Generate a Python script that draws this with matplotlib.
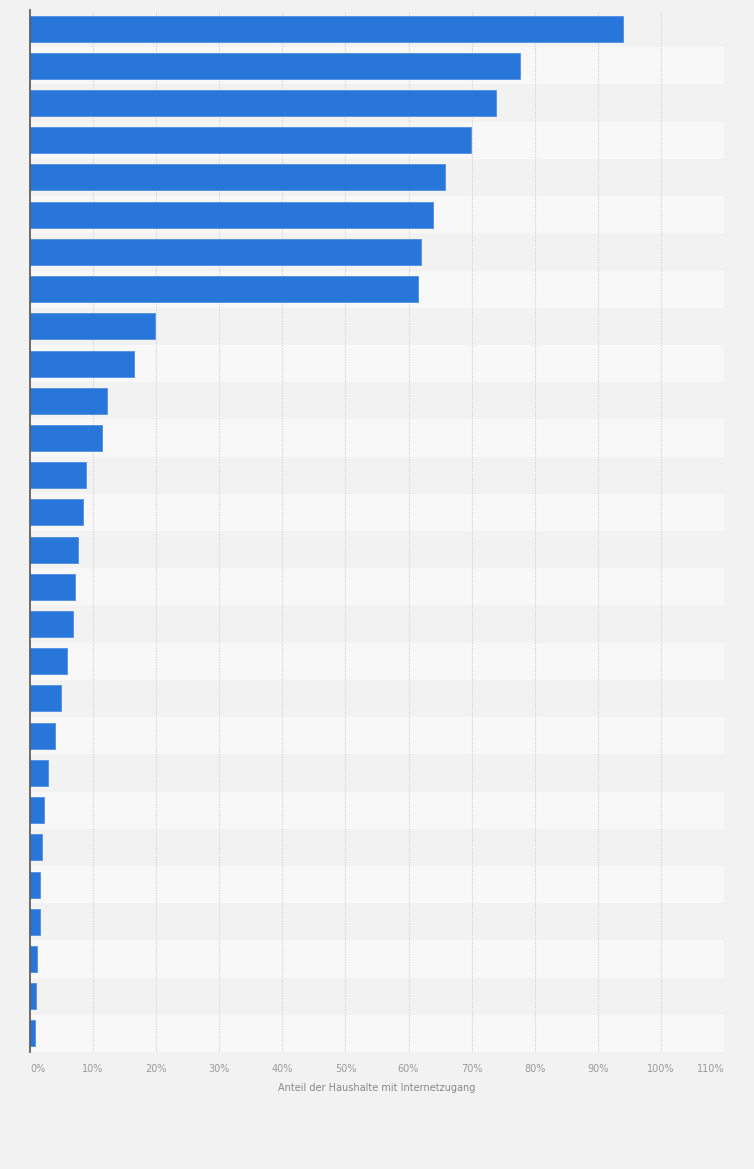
import matplotlib.pyplot as plt
import numpy as np

# share of households with internet access, top to bottom (no category labels shown)
shares = [94.0, 77.7, 73.9, 69.9, 65.8, 63.8, 61.9, 61.5,
          19.8, 16.5, 12.2, 11.4, 8.85, 8.4, 7.6, 7.2, 6.85, 5.85,
          4.9, 3.95, 2.9, 2.2, 1.9, 1.6, 1.6, 1.05, 0.95, 0.8]
x_ticks = list(range(0, 111, 10))
x_tick_labels = [f"{t}%" for t in x_ticks]
x_label = "Anteil der Haushalte mit Internetzugang"

bar_color = "#2876d9"
y_pos = np.arange(len(shares))

fig = plt.figure(figsize=(7.54, 11.69), dpi=100)
fig.patch.set_facecolor("#f2f2f2")
ax = fig.add_axes([30 / 754, 1 - 1052 / 1169, 694 / 754, 1042 / 1169])
ax.set_facecolor("#f2f2f2")

# alternating row bands
for i in y_pos:
    ax.axhspan(i - 0.5, i + 0.5, color="#f2f2f2" if i % 2 == 0 else "#f8f8f8",
               lw=0, zorder=0)

ax.barh(y_pos, shares, height=0.7, color=bar_color, edgecolor="#4f8fe3",
        linewidth=0.6, zorder=3)

ax.set_xlim(0, 110)
ax.set_ylim(len(shares) - 0.5, -0.5)
ax.set_yticks([])
ax.set_xticks(x_ticks)
ax.set_xticklabels(x_tick_labels, fontsize=7, color="#999999")
labels = ax.get_xticklabels()
labels[0].set_ha("left")
labels[-1].set_ha("right")
ax.tick_params(axis="x", length=0, pad=9)
ax.grid(axis="x", color="#dadada", linestyle=(0, (1.5, 1)), linewidth=0.8, zorder=1)
ax.set_axisbelow(True)

for side in ["top", "right", "bottom"]:
    ax.spines[side].set_visible(False)
ax.spines["left"].set_color("#555555")
ax.spines["left"].set_linewidth(1.2)
ax.spines["left"].set_zorder(4)

ax.set_xlabel(x_label, fontsize=7, color="#888888", labelpad=6)

fig.savefig("out.png", dpi=100, facecolor=fig.get_facecolor())
